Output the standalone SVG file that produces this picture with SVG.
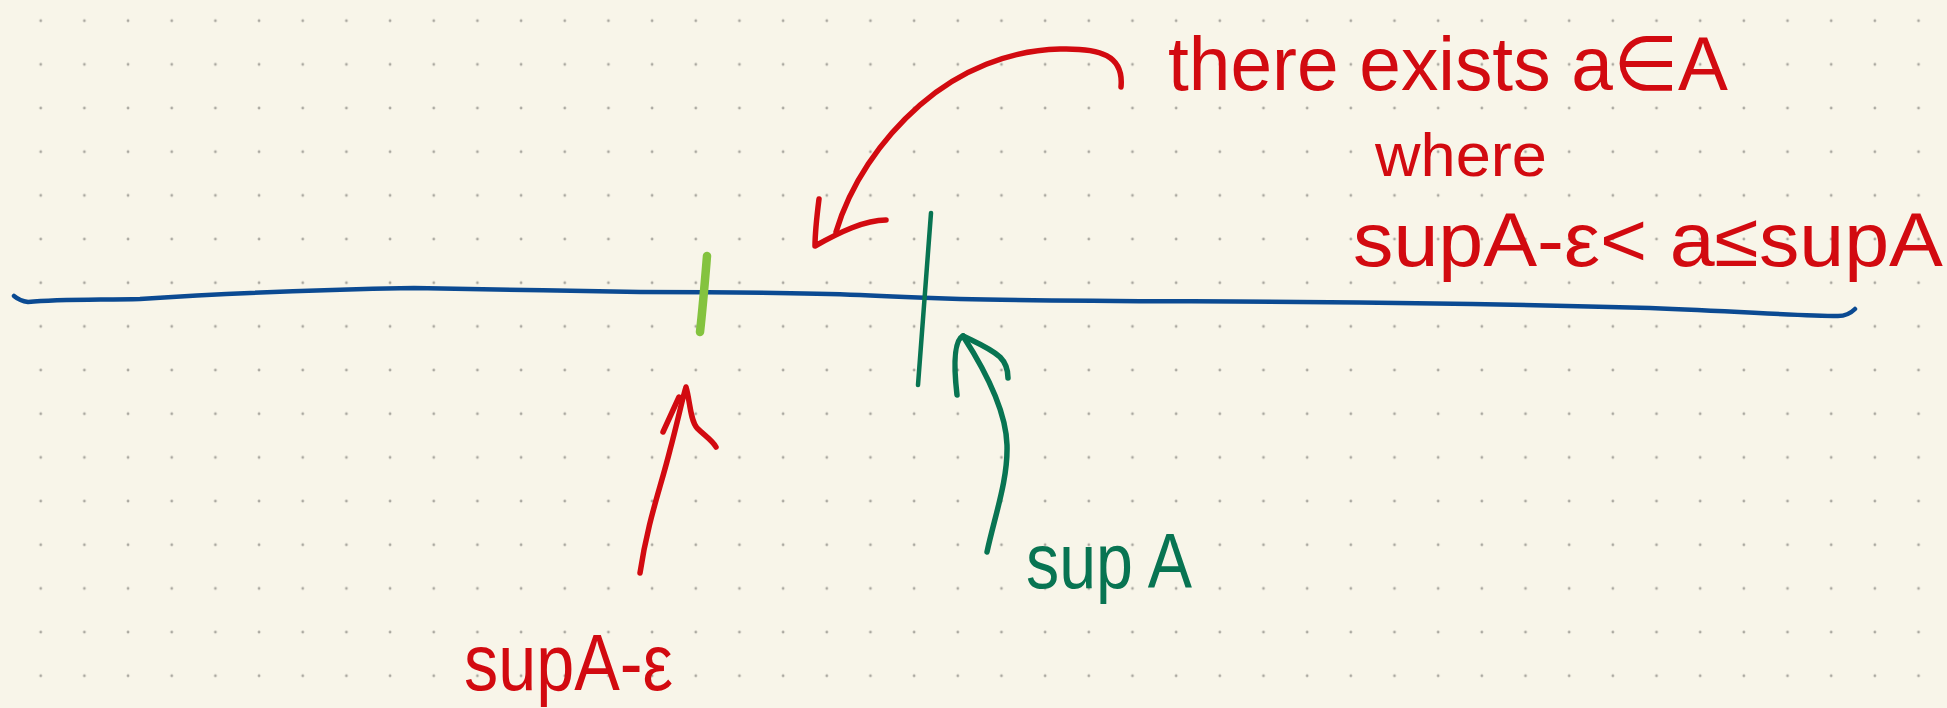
<svg xmlns="http://www.w3.org/2000/svg" width="1947" height="708" viewBox="0 0 1947 708">
  <style>
    .red { fill: #d20a10; }
    .grn { fill: #087452; }
    .lbl { font-family: "Liberation Sans", "DejaVu Sans", sans-serif; }
    .stroke { fill: none; stroke-linecap: round; stroke-linejoin: round; }
    .rs { stroke: #d20a10; stroke-width: 5.5; }
    .gs { stroke: #087452; stroke-width: 5.5; }
  </style>
  <defs>
    <pattern id="dots" patternUnits="userSpaceOnUse" x="18.9" y="-1.1" width="43.67" height="43.67">
      <circle cx="21.83" cy="21.83" r="1.4" fill="#aaa8a0"/>
    </pattern>
  </defs>
  <rect width="1947" height="708" fill="#f8f5e9"/>
  <rect width="1947" height="708" fill="url(#dots)"/>

  <g id="number-line">
    <path class="stroke" stroke="#0b4a92" stroke-width="4.5" d="M14,296 Q20,301 28,302 C60,299 100,300 140,299 C200,295 300,290 414,288 C500,289 560,291 640,292 C720,292 790,292 860,295 C900,297 930,298 960,299 C1050,301 1150,301 1300,302 C1450,303 1550,305 1650,308 C1750,312 1800,316 1838,316 Q1848,316 1855,309"/>
  </g>

  <g id="tick-supA-eps">
    <path class="stroke" stroke="#84c33f" stroke-width="8.5" d="M707,256 C705,280 703,305 700,332"/>
  </g>

  <g id="tick-supA">
    <path class="stroke" stroke="#087452" stroke-width="4.5" d="M931,213 L918,385"/>
  </g>

  <g id="label-there-exists">
    <text class="lbl red" x="1168" y="90" font-size="76" textLength="560" lengthAdjust="spacingAndGlyphs">there exists a∈A</text>
  </g>
  <g id="label-where">
    <text class="lbl red" x="1375" y="176" font-size="62" textLength="172" lengthAdjust="spacingAndGlyphs">where</text>
  </g>
  <g id="label-inequality">
    <text class="lbl red" x="1353" y="266" font-size="76" textLength="590" lengthAdjust="spacingAndGlyphs">supA-ε&lt; a≤supA</text>
  </g>
  <g id="label-supA">
    <text class="lbl grn" x="1026" y="588" font-size="78" textLength="166" lengthAdjust="spacingAndGlyphs">sup A</text>
  </g>
  <g id="label-supA-eps">
    <text class="lbl red" x="464" y="690" font-size="80" textLength="209" lengthAdjust="spacingAndGlyphs">supA-ε</text>
  </g>

  <g id="connectors">
    <path class="stroke rs" d="M1121,87 C1124,55 1100,48 1060,49 C1010,50 960,70 920,105 C880,140 850,185 836,232"/>
    <path class="stroke rs" d="M819,199 C817,215 815,235 815,246 C840,232 865,220 886,220"/>
    <path class="stroke rs" d="M640,573 C648,520 660,490 670,450 C678,420 682,400 686,387 C690,400 690,420 697,428 C705,436 712,440 716,447"/>
    <path class="stroke rs" d="M663,432 L679,397"/>
    <path class="stroke gs" d="M987,552 C995,515 1008,480 1007,445 C1006,410 985,370 963,336"/>
    <path class="stroke gs" d="M963,336 C975,342 990,348 1000,357 C1006,363 1008,372 1008,378"/>
    <path class="stroke gs" d="M963,336 C955,340 953,360 957,395"/>
  </g>
</svg>
